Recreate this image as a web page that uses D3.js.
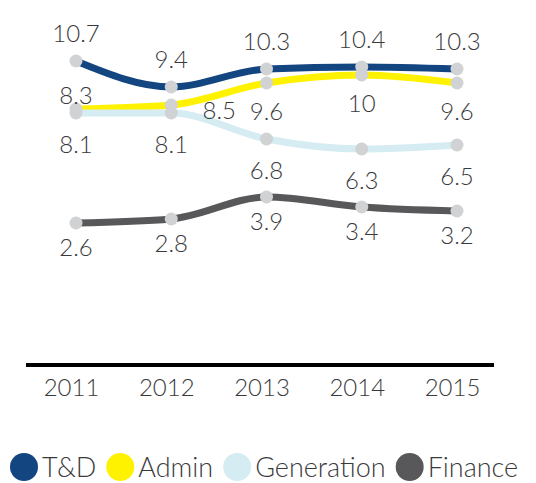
<!DOCTYPE html>
<html>
<head>
<meta charset="utf-8">
<script src="https://cdn.jsdelivr.net/npm/d3@7"></script>
<style>
  body { margin: 0; background: #fff; }
  text { font-family: Lato, "Open Sans", sans-serif; font-weight: 300; fill: #3a3a3c; }
</style>
</head>
<body>
<div id="chart"></div>
<script>
// data
var years = ["2011", "2012", "2013", "2014", "2015"];
var seriesNames = ["T&D", "Admin", "Generation", "Finance"];
var tdValues = [10.7, 9.4, 10.3, 10.4, 10.3];
var adminValues = [8.3, 8.5, 9.6, 10, 9.6];
var generationValues = [8.1, 8.1, 6.8, 6.3, 6.5];
var financeValues = [2.6, 2.8, 3.9, 3.4, 3.2];

var colors = ["#134580", "#fff200", "#d5ecf3", "#58585a"];
// where each value label sits relative to its point
var labelSide = [
    ["above", "above", "above", "above", "above"],
    ["above", "right", "below", "below", "below"],
    ["below", "below", "below", "below", "below"],
    ["below", "below", "below", "below", "below"]
];

var width = 536, height = 483;

var svg = d3.select("#chart")
    .append("svg")
    .attr("width", width)
    .attr("height", height);

var x = d3.scalePoint()
    .domain(years)
    .range([76, 457]);

var y = d3.scaleLinear()
    .domain([-4.5, 11])
    .range([365, 55]);

var series = [tdValues, adminValues, generationValues, financeValues].map(function(vals, i) {
    return {
        name: seriesNames[i],
        color: colors[i],
        points: vals.map(function(v, j) { return {year: years[j], value: v, side: labelSide[i][j]}; })
    };
});

// x axis
var xAxis = d3.axisBottom(x).tickSize(0).tickPadding(14);
var axisG = svg.append("g")
    .attr("class", "x-axis")
    .attr("transform", "translate(0," + y.range()[0] + ")")
    .call(xAxis);
axisG.attr("font-family", null).attr("font-size", 24);
axisG.select(".domain").remove();
axisG.selectAll("text")
    .attr("dx", -5)
    .attr("fill", null);

svg.append("line")
    .attr("x1", x.range()[0] - 50)
    .attr("x2", x.range()[1] + 37)
    .attr("y1", y.range()[0])
    .attr("y2", y.range()[0])
    .attr("stroke", "#000")
    .attr("stroke-width", 4);

var line = d3.line()
    .x(function(d) { return x(d.year); })
    .y(function(d) { return y(d.value); })
    .curve(d3.curveMonotoneX);

svg.selectAll(".series-line")
    .data(series)
    .enter()
    .append("path")
    .attr("class", "series-line")
    .attr("d", function(d) { return line(d.points); })
    .attr("fill", "none")
    .attr("stroke", function(d) { return d.color; })
    .attr("stroke-width", 7);

var groups = svg.selectAll(".series-marks")
    .data(series)
    .enter()
    .append("g")
    .attr("class", "series-marks");

groups.selectAll("circle")
    .data(function(d) { return d.points; })
    .enter()
    .append("circle")
    .attr("cx", function(d) { return x(d.year); })
    .attr("cy", function(d) { return y(d.value); })
    .attr("r", 6.5)
    .attr("fill", "#d1d2d4");

groups.selectAll("text")
    .data(function(d, i) { return d.points.map(function(p) { return Object.assign({s: i}, p); }); })
    .enter()
    .append("text")
    .attr("x", function(d) { return x(d.year) + (d.side == "right" ? 48 : 0); })
    .attr("y", function(d) {
        var py = y(d.value);
        if (d.side == "above") return d.s == 0 ? py - 19 : py - 5;
        if (d.side == "right") return py + 14;
        if (d.s == 1) return py + 37;
        return d.s == 3 ? py + 33 : py + 40;
    })
    .attr("text-anchor", "middle")
    .attr("font-size", 24)
    .text(function(d) { return d.value; });

// legend
var legend = svg.append("g").attr("class", "legend");
var lx = 10;
series.forEach(function(s) {
    legend.append("circle")
        .attr("cx", lx + 14)
        .attr("cy", 467)
        .attr("r", 14)
        .attr("fill", s.color);
    var t = legend.append("text")
        .attr("x", lx + 32)
        .attr("y", 477)
        .attr("font-size", 27)
        .text(s.name);
    lx += 32 + t.node().getComputedTextLength() + 10;
});
</script>
</body>
</html>
